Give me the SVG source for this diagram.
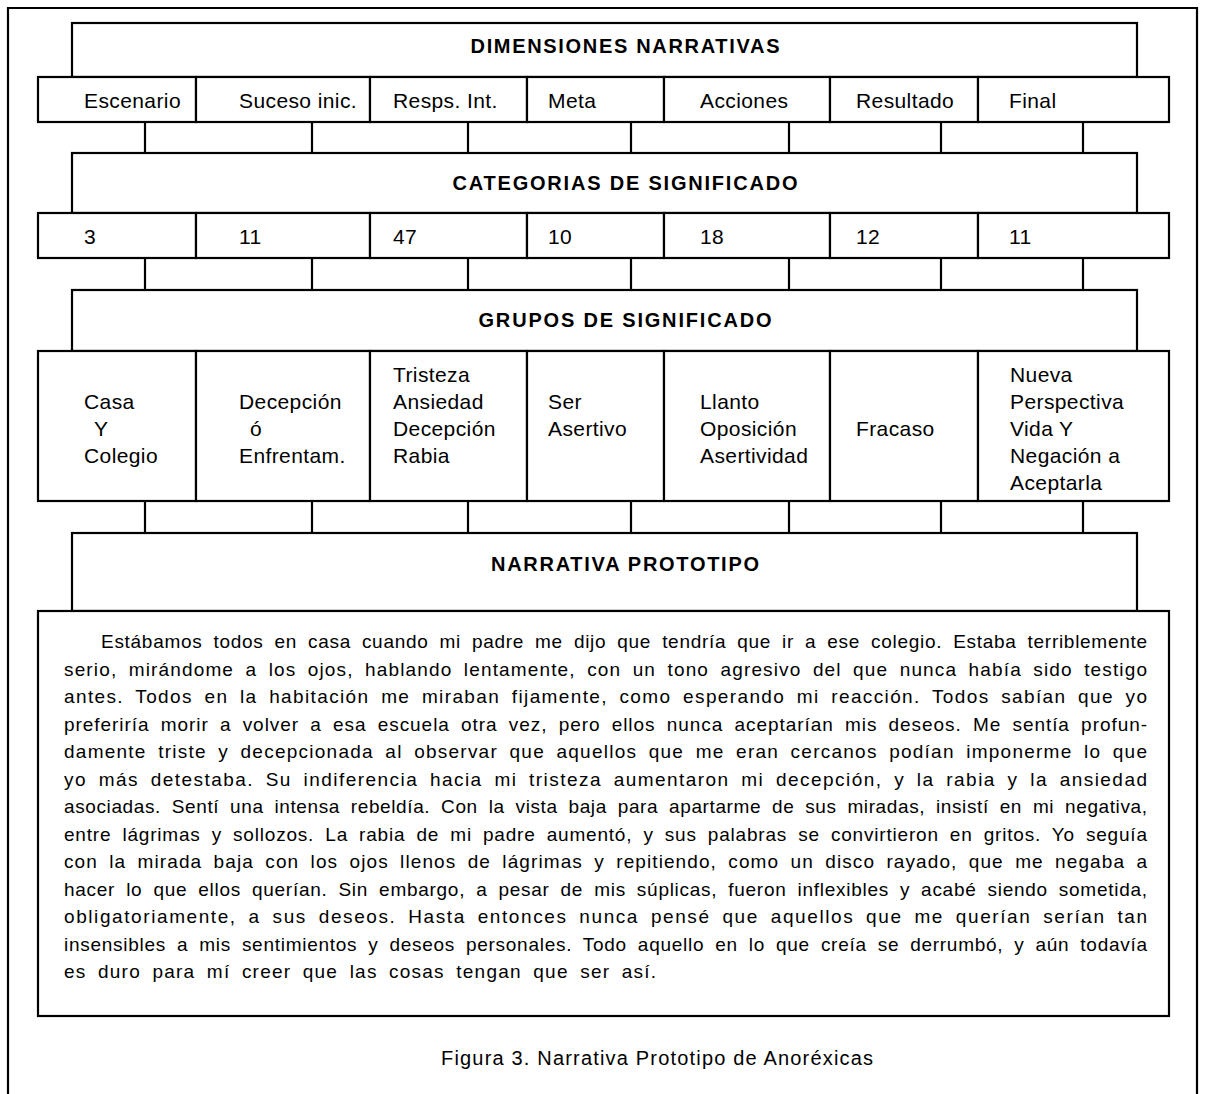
<svg xmlns="http://www.w3.org/2000/svg" width="1208" height="1094" viewBox="0 0 1208 1094">
<style>
.b{fill:#fff;stroke:#000;stroke-width:2.2}
.l{stroke:#000;stroke-width:2.2;fill:none}
.h{font-family:"Liberation Sans",Arial,sans-serif;font-weight:bold;font-size:20px;text-anchor:middle;fill:#000}
.c{font-family:"Liberation Sans",Arial,sans-serif;font-size:21px;letter-spacing:0.4px;fill:#000}
.p{font-family:"Liberation Sans",Arial,sans-serif;font-size:19px;word-spacing:5px;fill:#000}
.cap{font-family:"Liberation Sans",Arial,sans-serif;font-size:20px;fill:#000}
</style>
<rect width="1208" height="1094" fill="#fff"/>
<path class="l" d="M8,1100 V8 H1197 V1100"/>

<g id="connectors">
<path class="l" d="M145,122V153M312,122V153M468,122V153M631,122V153M789,122V153M941,122V153M1083,122V153"/>
<path class="l" d="M145,258V290M312,258V290M468,258V290M631,258V290M789,258V290M941,258V290M1083,258V290"/>
<path class="l" d="M145,501V533M312,501V533M468,501V533M631,501V533M789,501V533M941,501V533M1083,501V533"/>
</g>

<g id="dimensiones">
<rect class="b" x="72" y="23" width="1065" height="54"/>
<text class="h" x="625" y="53" textLength="309" lengthAdjust="spacing">DIMENSIONES NARRATIVAS</text>
</g>
<g id="dim-cells">
<g id="d1"><rect class="b" x="38" y="77" width="158" height="45"/><text class="c" x="84" y="108">Escenario</text></g>
<g id="d2"><rect class="b" x="196" y="77" width="174" height="45"/><text class="c" x="239" y="108">Suceso inic.</text></g>
<g id="d3"><rect class="b" x="370" y="77" width="157" height="45"/><text class="c" x="393" y="108">Resps. Int.</text></g>
<g id="d4"><rect class="b" x="527" y="77" width="137" height="45"/><text class="c" x="548" y="108">Meta</text></g>
<g id="d5"><rect class="b" x="664" y="77" width="166" height="45"/><text class="c" x="700" y="108">Acciones</text></g>
<g id="d6"><rect class="b" x="830" y="77" width="148" height="45"/><text class="c" x="856" y="108">Resultado</text></g>
<g id="d7"><rect class="b" x="978" y="77" width="191" height="45"/><text class="c" x="1009" y="108">Final</text></g>
</g>

<g id="categorias">
<rect class="b" x="72" y="153" width="1065" height="60"/>
<text class="h" x="625" y="190" textLength="345" lengthAdjust="spacing">CATEGORIAS DE SIGNIFICADO</text>
</g>
<g id="cat-cells">
<g id="k1"><rect class="b" x="38" y="213" width="158" height="45"/><text class="c" x="84" y="244">3</text></g>
<g id="k2"><rect class="b" x="196" y="213" width="174" height="45"/><text class="c" x="239" y="244">11</text></g>
<g id="k3"><rect class="b" x="370" y="213" width="157" height="45"/><text class="c" x="393" y="244">47</text></g>
<g id="k4"><rect class="b" x="527" y="213" width="137" height="45"/><text class="c" x="548" y="244">10</text></g>
<g id="k5"><rect class="b" x="664" y="213" width="166" height="45"/><text class="c" x="700" y="244">18</text></g>
<g id="k6"><rect class="b" x="830" y="213" width="148" height="45"/><text class="c" x="856" y="244">12</text></g>
<g id="k7"><rect class="b" x="978" y="213" width="191" height="45"/><text class="c" x="1009" y="244">11</text></g>
</g>

<g id="grupos">
<rect class="b" x="72" y="290" width="1065" height="61"/>
<text class="h" x="625" y="327" textLength="293" lengthAdjust="spacing">GRUPOS DE SIGNIFICADO</text>
</g>
<g id="grp-cells">
<g id="g1"><rect class="b" x="38" y="351" width="158" height="150"/><text class="c" x="84" y="409">Casa</text><text class="c" x="94" y="436">Y</text><text class="c" x="84" y="463">Colegio</text></g>
<g id="g2"><rect class="b" x="196" y="351" width="174" height="150"/><text class="c" x="239" y="409">Decepción</text><text class="c" x="250" y="436">ó</text><text class="c" x="239" y="463">Enfrentam.</text></g>
<g id="g3"><rect class="b" x="370" y="351" width="157" height="150"/><text class="c" x="393" y="382">Tristeza</text><text class="c" x="393" y="409">Ansiedad</text><text class="c" x="393" y="436">Decepción</text><text class="c" x="393" y="463">Rabia</text></g>
<g id="g4"><rect class="b" x="527" y="351" width="137" height="150"/><text class="c" x="548" y="409">Ser</text><text class="c" x="548" y="436">Asertivo</text></g>
<g id="g5"><rect class="b" x="664" y="351" width="166" height="150"/><text class="c" x="700" y="409">Llanto</text><text class="c" x="700" y="436">Oposición</text><text class="c" x="700" y="463">Asertividad</text></g>
<g id="g6"><rect class="b" x="830" y="351" width="148" height="150"/><text class="c" x="856" y="436">Fracaso</text></g>
<g id="g7"><rect class="b" x="978" y="351" width="191" height="150"/><text class="c" x="1010" y="382">Nueva</text><text class="c" x="1010" y="409">Perspectiva</text><text class="c" x="1010" y="436">Vida Y</text><text class="c" x="1010" y="463">Negación a</text><text class="c" x="1010" y="490">Aceptarla</text></g>
</g>

<g id="narrativa">
<rect class="b" x="72" y="533" width="1065" height="78"/>
<text class="h" x="625" y="571" textLength="268" lengthAdjust="spacing">NARRATIVA PROTOTIPO</text>
</g>

<g id="texto">
<rect class="b" x="38" y="611" width="1131" height="405"/>
<text class="p" x="101" y="648" textLength="1046" lengthAdjust="spacing">Estábamos todos en casa cuando mi padre me dijo que tendría que ir a ese colegio. Estaba terriblemente</text>
<text class="p" x="64" y="675.5" textLength="1083" lengthAdjust="spacing">serio, mirándome a los ojos, hablando lentamente, con un tono agresivo del que nunca había sido testigo</text>
<text class="p" x="64" y="703" textLength="1083" lengthAdjust="spacing">antes. Todos en la habitación me miraban fijamente, como esperando mi reacción. Todos sabían que yo</text>
<text class="p" x="64" y="730.5" textLength="1083" lengthAdjust="spacing">preferiría morir a volver a esa escuela otra vez, pero ellos nunca aceptarían mis deseos. Me sentía profun-</text>
<text class="p" x="64" y="758" textLength="1083" lengthAdjust="spacing">damente triste y decepcionada al observar que aquellos que me eran cercanos podían imponerme lo que</text>
<text class="p" x="64" y="785.5" textLength="1083" lengthAdjust="spacing">yo más detestaba. Su indiferencia hacia mi tristeza aumentaron mi decepción, y la rabia y la ansiedad</text>
<text class="p" x="64" y="813" textLength="1083" lengthAdjust="spacing">asociadas. Sentí una intensa rebeldía. Con la vista baja para apartarme de sus miradas, insistí en mi negativa,</text>
<text class="p" x="64" y="840.5" textLength="1083" lengthAdjust="spacing">entre lágrimas y sollozos. La rabia de mi padre aumentó, y sus palabras se convirtieron en gritos. Yo seguía</text>
<text class="p" x="64" y="868" textLength="1083" lengthAdjust="spacing">con la mirada baja con los ojos llenos de lágrimas y repitiendo, como un disco rayado, que me negaba a</text>
<text class="p" x="64" y="895.5" textLength="1083" lengthAdjust="spacing">hacer lo que ellos querían. Sin embargo, a pesar de mis súplicas, fueron inflexibles y acabé siendo sometida,</text>
<text class="p" x="64" y="923" textLength="1083" lengthAdjust="spacing">obligatoriamente, a sus deseos. Hasta entonces nunca pensé que aquellos que me querían serían tan</text>
<text class="p" x="64" y="950.5" textLength="1083" lengthAdjust="spacing">insensibles a mis sentimientos y deseos personales. Todo aquello en lo que creía se derrumbó, y aún todavía</text>
<text class="p" x="64" y="978" textLength="592" lengthAdjust="spacing">es duro para mí creer que las cosas tengan que ser así.</text>
</g>

<text class="cap" x="441" y="1065" textLength="432" lengthAdjust="spacing">Figura 3. Narrativa Prototipo de Anoréxicas</text>
</svg>
